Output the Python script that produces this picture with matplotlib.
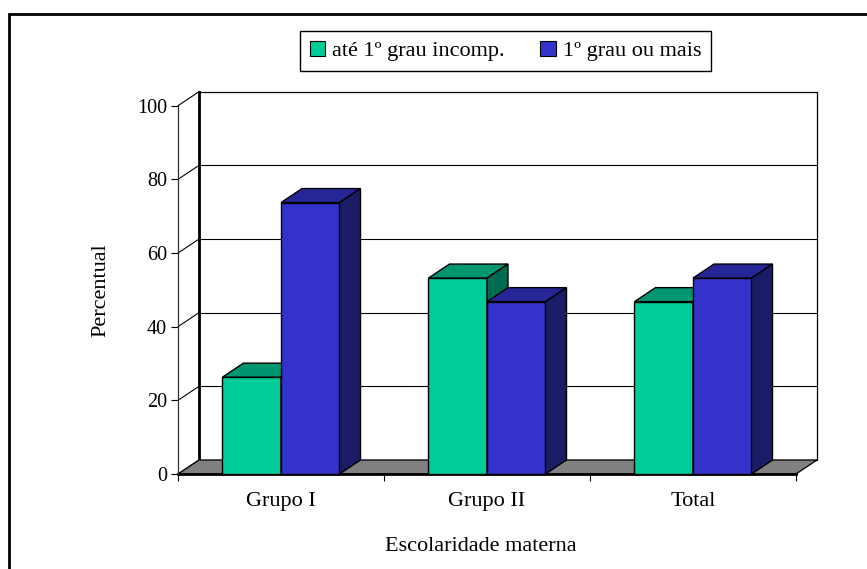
import matplotlib.pyplot as plt
from matplotlib.patches import Polygon, Patch, Rectangle

categories = ["Grupo I", "Grupo II", "Total"]
series_names = ["até 1º grau incomp.", "1º grau ou mais"]
ate_primeiro = [26.3, 53.2, 46.8]
primeiro_ou_mais = [73.7, 46.8, 53.2]
y_ticks = [0, 20, 40, 60, 80, 100]

# face colours for each series: front, top, side
colors = [
    ("#00CC99", "#009670", "#006B50"),
    ("#3333CC", "#262699", "#1C1C66"),
]

plt.rcParams["font.family"] = ["Liberation Serif", "DejaVu Serif"]
plt.rcParams["font.size"] = 16

fig = plt.figure(figsize=(8.67, 5.69), dpi=100)
W, H = 867, 569
# axes covers the front plane of the 3D box
ax = fig.add_axes([178 / W, (H - 474) / H, (796 - 178) / W, (474 - 105.7) / H])
ax.set_xlim(0, 3)
ax.set_ylim(0, 100)
ax.patch.set_visible(False)

# oblique depth offset, in data units
DX = 21 / (618 / 3)
DY = 14 / (368.3 / 100)
n = len(categories)


def poly(pts, fc, z, lw=1.0, ec="black"):
    ax.add_patch(Polygon(pts, closed=True, facecolor=fc, edgecolor=ec,
                         linewidth=lw, zorder=z, clip_on=False))


def line(xs, ys, z, lw=0.8, c="black"):
    ax.plot(xs, ys, color=c, linewidth=lw, zorder=z, clip_on=False)


# back wall and gridlines
poly([(DX, DY), (n + DX, DY), (n + DX, 100 + DY), (DX, 100 + DY)], "white", 1, lw=0.9)
for v in y_ticks[1:-1]:
    line([DX, n + DX], [v + DY, v + DY], 1.5)
# left wall diagonals
for v in y_ticks:
    line([0, DX], [v, v + DY], 1.5)
line([DX, DX], [DY, 100 + DY], 2, lw=2)

# floor
poly([(0, 0), (n, 0), (n + DX, DY), (DX, DY)], "#808080", 2, lw=0.9)
line([0, n], [0, 0], 2.2, lw=2)

# bars
bw = 0.284
z = 3
for i in range(n):
    for k, vals in enumerate([ate_primeiro, primeiro_ou_mais]):
        v = vals[i]
        x0 = i + 0.5 - bw + k * bw
        x1 = x0 + bw
        front, top, side = colors[k]
        poly([(x0, 0), (x1, 0), (x1, v), (x0, v)], front, z)
        poly([(x0, v), (x1, v), (x1 + DX, v + DY), (x0 + DX, v + DY)], top, z)
        poly([(x1, 0), (x1 + DX, DY), (x1 + DX, v + DY), (x1, v)], side, z)
        z += 1

# axes, ticks and labels
for s in ["top", "right", "bottom"]:
    ax.spines[s].set_visible(False)
ax.spines["left"].set_linewidth(0.9)
ax.spines["left"].set_color("#303030")
ax.set_yticks(y_ticks)
ax.tick_params(axis="y", direction="out", length=5, width=0.8, pad=3, labelsize=14.5)
ax.set_xticks(range(n + 1))
ax.set_xticklabels([])
ax.set_xticks([i + 0.5 for i in range(n)], minor=True)
ax.set_xticklabels(categories, minor=True)
ax.tick_params(axis="x", which="major", direction="out", length=5, width=0.8)
ax.tick_params(axis="x", which="minor", length=0, pad=13)
ax.set_ylabel("Percentual")
ax.yaxis.set_label_coords(-0.110, 0.5)
ax.set_xlabel("Escolaridade materna")
ax.xaxis.set_label_coords(0.49, -0.172)

handles = [Patch(facecolor=c[0], edgecolor="black", linewidth=0.8) for c in colors]
leg = fig.legend(handles, series_names, loc="center", ncol=2,
                 bbox_to_anchor=(505.5 / W, 1 - 51 / H), frameon=True,
                 fancybox=False, edgecolor="black", framealpha=1,
                 handlelength=0.7, handleheight=0.7, handletextpad=0.3,
                 columnspacing=1.6, borderpad=0.45, borderaxespad=0)
leg.get_frame().set_linewidth(1.0)

# outer chart frame
fig.patches.append(Rectangle((9 / W, -0.1), 1.0, 1.1 - 14 / H, transform=fig.transFigure,
                             fill=False, edgecolor="black", linewidth=2, clip_on=False))

fig.savefig("out.png", dpi=100)
